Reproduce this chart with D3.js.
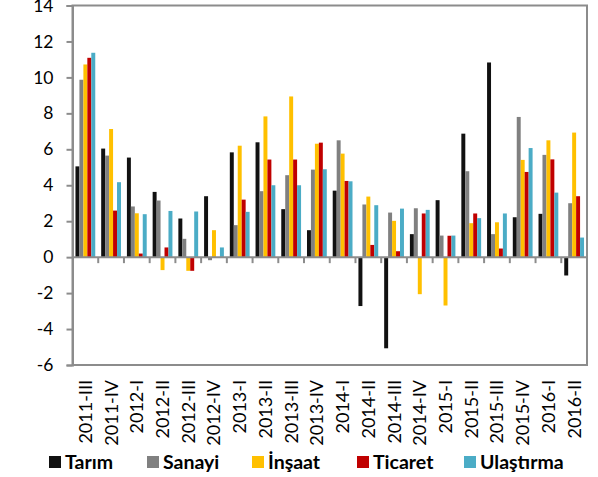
<!DOCTYPE html>
<html>
<head>
<meta charset="utf-8">
<script src="https://cdn.jsdelivr.net/npm/d3@7"></script>
<style>
  html, body { margin: 0; padding: 0; background: #fff; }
  svg { display: block; }
  text { font-family: Lato, "Open Sans", sans-serif; fill: #000; }
</style>
</head>
<body>
<svg id="chart" width="598" height="477"></svg>
<script>
const categories = ["2011-III","2011-IV","2012-I","2012-II","2012-III","2012-IV","2013-I","2013-II","2013-III","2013-IV","2014-I","2014-II","2014-III","2014-IV","2015-I","2015-II","2015-III","2015-IV","2016-I","2016-II"];
const seriesNames = ["Tarım","Sanayi","İnşaat","Ticaret","Ulaştırma"];
const seriesColors = ["#111111","#808080","#FFC000","#C00000","#4BACC6"];
const tarim     = [5.05, 6.04, 5.54, 3.63, 2.15, 3.39, 5.83, 6.39, 2.67, 1.50, 3.70, -2.72, -5.07, 1.28, 3.17, 6.87, 10.83, 2.22, 2.41, -1.02];
const sanayi    = [9.87, 5.65, 2.82, 3.15, 1.02, -0.17, 1.78, 3.67, 4.56, 4.87, 6.50, 2.93, 2.48, 2.72, 1.20, 4.78, 1.28, 7.80, 5.69, 3.00];
const insaat    = [10.72, 7.13, 2.44, -0.72, -0.76, 1.50, 6.20, 7.83, 8.94, 6.31, 5.76, 3.37, 2.02, -2.06, -2.69, 1.89, 1.94, 5.41, 6.50, 6.93];
const ticaret   = [11.09, 2.59, 0.20, 0.54, -0.76, 0.00, 3.20, 5.43, 5.43, 6.37, 4.24, 0.68, 0.33, 2.43, 1.19, 2.43, 0.48, 4.74, 5.44, 3.39];
const ulastirma = [11.37, 4.17, 2.39, 2.57, 2.54, 0.54, 2.52, 4.00, 4.00, 4.89, 4.22, 2.89, 2.70, 2.63, 1.20, 2.17, 2.43, 6.07, 3.59, 1.09];
const yTicks = [-6,-4,-2,0,2,4,6,8,10,12,14];

const seriesValues = [tarim, sanayi, insaat, ticaret, ulastirma];

const svg = d3.select("#chart");
const pLeft = 72.5, pRight = 587, pTop = 5.5, pBottom = 365;
const gray = "#8c8c8c";

const x0 = d3.scaleBand().domain(categories).range([pLeft, pRight]).paddingInner(0).paddingOuter(0);
const x1 = d3.scaleBand().domain(seriesNames).range([0, x0.bandwidth()]).paddingInner(0).paddingOuter(0.75);
const y = d3.scaleLinear().domain([-6, 14]).range([pBottom, pTop]);

// bars
seriesNames.forEach((s, si) => {
  svg.append("g").selectAll("rect")
    .data(categories.map((c, ci) => ({c, v: seriesValues[si][ci]})))
    .join("rect")
    .attr("x", d => x0(d.c) + x1(s))
    .attr("width", x1.bandwidth())
    .attr("y", d => y(Math.max(0, d.v)))
    .attr("height", d => Math.abs(y(d.v) - y(0)))
    .attr("fill", seriesColors[si]);
});

// frame
svg.append("rect")
  .attr("x", pLeft).attr("y", pTop)
  .attr("width", pRight - pLeft).attr("height", pBottom - pTop)
  .attr("fill", "none").attr("stroke", gray).attr("stroke-width", 2);

// y axis
const yAxis = d3.axisLeft(y).tickValues(yTicks).tickSize(6).tickPadding(13).tickFormat(d => String(d));
const gy = svg.append("g").attr("transform", `translate(${pLeft},0)`).call(yAxis);
gy.select(".domain").attr("stroke", gray).attr("stroke-width", 2);
gy.selectAll(".tick line").attr("stroke", gray).attr("stroke-width", 2);
gy.selectAll(".tick text").style("font-size", "17.5px").style("font-family", "Lato, sans-serif").attr("fill", "#000");

// x axis at zero with boundary ticks
svg.append("line").attr("x1", pLeft).attr("x2", pRight).attr("y1", y(0)).attr("y2", y(0))
  .attr("stroke", gray).attr("stroke-width", 2);
const boundaries = categories.map(c => x0(c)).slice(1).concat([pRight]);
svg.append("g").selectAll("line").data(boundaries).join("line")
  .attr("x1", d => d).attr("x2", d => d)
  .attr("y1", y(0)).attr("y2", y(0) + 6)
  .attr("stroke", gray).attr("stroke-width", 2);

// x labels
svg.append("g").selectAll("text").data(categories).join("text")
  .attr("transform", d => `translate(${x0(d) + x0.bandwidth() / 2 + 6.5},380) rotate(-90)`)
  .attr("text-anchor", "end")
  .style("font-size", "18px")
  .text(d => d);

// legend
const legendX = [49, 147, 252, 357, 464];
const lg = svg.append("g");
seriesNames.forEach((s, i) => {
  lg.append("rect").attr("x", legendX[i]).attr("y", 456).attr("width", 12).attr("height", 12).attr("fill", seriesColors[i]);
  lg.append("text").attr("x", legendX[i] + 16).attr("y", 469)
    .style("font-size", "19.5px").style("font-weight", "bold").text(s);
});
</script>
</body>
</html>
